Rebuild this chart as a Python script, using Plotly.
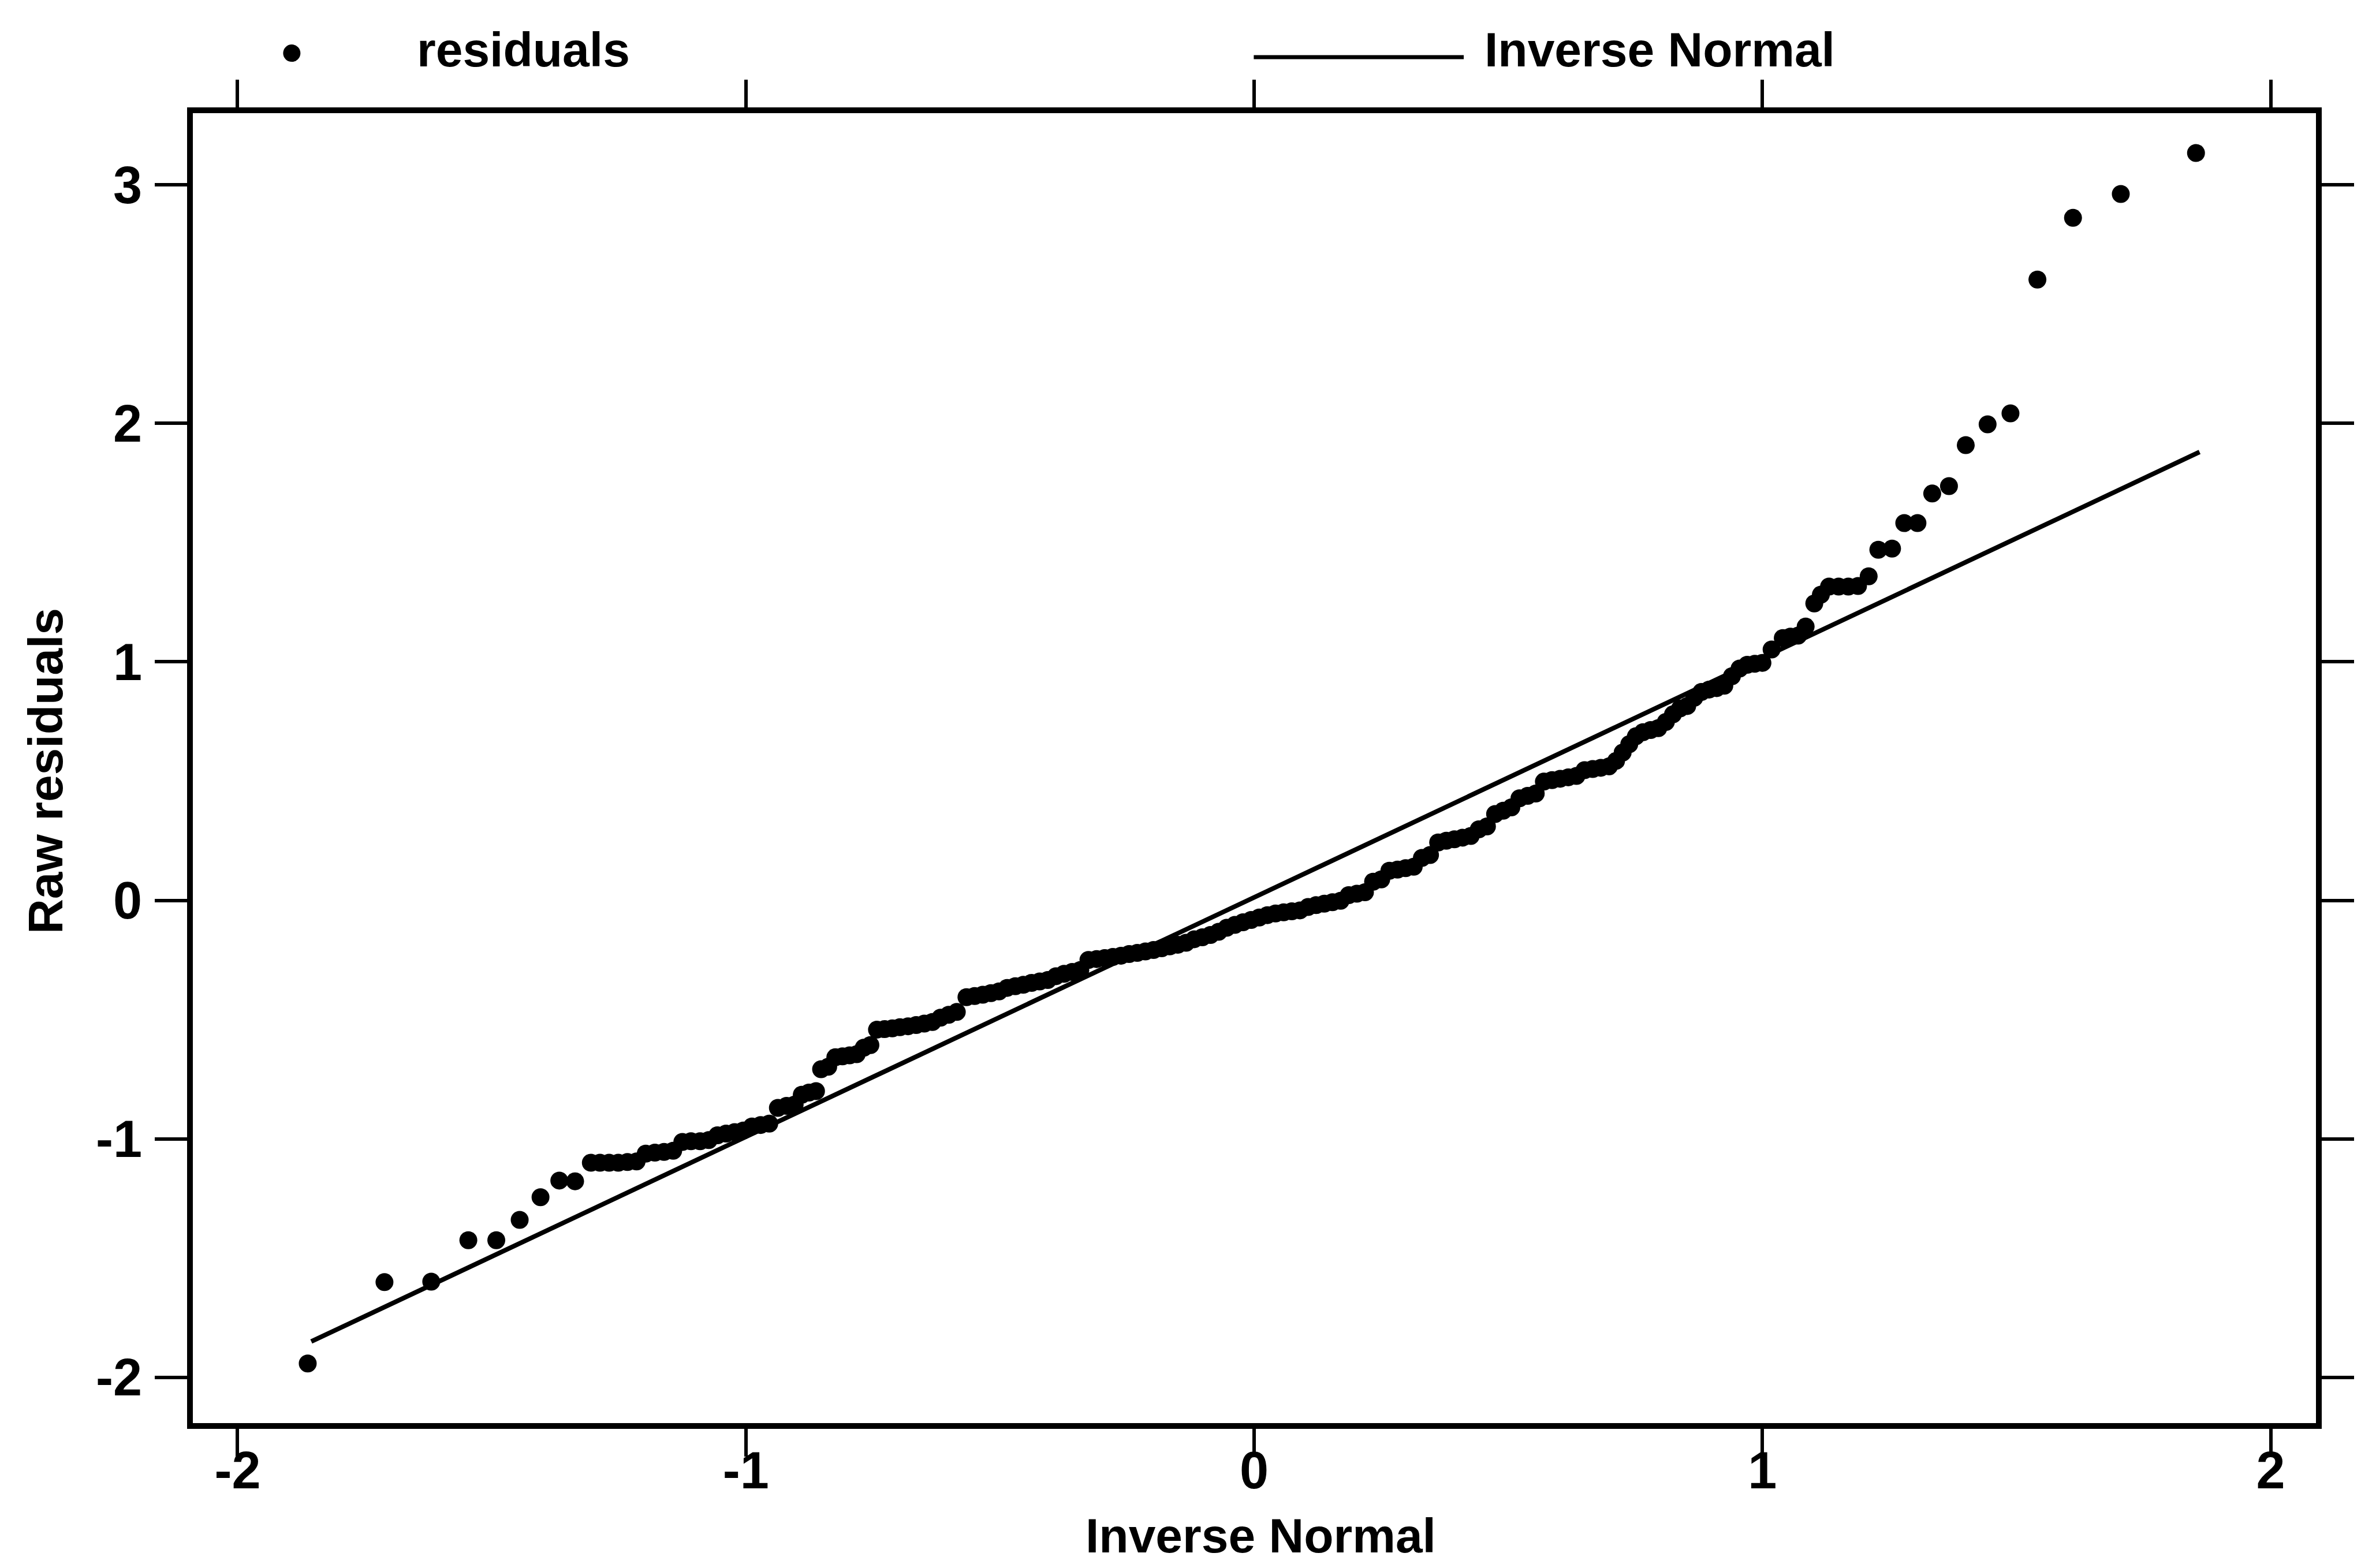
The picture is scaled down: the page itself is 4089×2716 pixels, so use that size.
import plotly.graph_objects as go

# Normal quantile plot of raw residuals
inv_normal = [
    -1.862, -1.711, -1.619, -1.546, -1.491, -1.445, -1.404, -1.367, -1.336,
    -1.305, -1.287, -1.269, -1.251, -1.233, -1.215,
    -1.197, -1.179, -1.161, -1.143,
    -1.125, -1.108, -1.090, -1.073,
    -1.056, -1.039, -1.022, -1.005,
    -0.988, -0.971, -0.954,
    -0.937, -0.920, -0.904,
    -0.890, -0.876, -0.862,
    -0.852, -0.838,
    -0.824, -0.810, -0.796, -0.782,
    -0.768, -0.755,
    -0.742, -0.727, -0.712,
    -0.697, -0.681, -0.665, -0.649, -0.633,
    -0.617, -0.601, -0.585,
    -0.566, -0.550, -0.534, -0.518, -0.502,
    -0.486, -0.470, -0.454,
    -0.438, -0.422, -0.406,
    -0.390, -0.374, -0.358, -0.342,
    -0.326, -0.310, -0.294, -0.278, -0.262,
    -0.246, -0.230, -0.214, -0.198, -0.182,
    -0.166, -0.150, -0.134,
    -0.118, -0.102, -0.086, -0.070,
    -0.054, -0.038, -0.022, -0.006, 0.010,
    0.026, 0.042, 0.058, 0.074, 0.090,
    0.106, 0.122, 0.138, 0.154, 0.170,
    0.186, 0.202, 0.218,
    0.234, 0.250,
    0.266, 0.282, 0.298, 0.314,
    0.330, 0.346,
    0.362, 0.378, 0.394, 0.410, 0.426,
    0.442, 0.458,
    0.474, 0.490, 0.506,
    0.522, 0.538, 0.554,
    0.570, 0.586, 0.602, 0.618, 0.634,
    0.650, 0.666, 0.682, 0.698,
    0.712, 0.725, 0.738, 0.751,
    0.765, 0.780, 0.795,
    0.810, 0.824, 0.838, 0.852,
    0.866, 0.880, 0.895, 0.910, 0.925,
    0.940, 0.955, 0.970, 0.985, 1.000,
    1.018, 1.040, 1.055, 1.070, 1.085,
    1.102, 1.115, 1.131, 1.150, 1.169, 1.188,
    1.209, 1.228, 1.255, 1.279, 1.305,
    1.334, 1.367, 1.400, 1.443, 1.488,
    1.541, 1.611, 1.705, 1.853,
]

raw_residuals = [
    -1.942, -1.601, -1.599, -1.425, -1.425, -1.340, -1.245, -1.175, -1.178,
    -1.100, -1.100, -1.100, -1.100, -1.097, -1.095,
    -1.062, -1.058, -1.055, -1.050,
    -1.013, -1.010, -1.010, -1.005,
    -0.985, -0.978, -0.972, -0.965,
    -0.948, -0.942, -0.936,
    -0.870, -0.862, -0.856,
    -0.815, -0.806, -0.800,
    -0.708, -0.698,
    -0.658, -0.654, -0.650, -0.645,
    -0.618, -0.607,
    -0.542, -0.540, -0.537,
    -0.532, -0.528, -0.523, -0.517, -0.510,
    -0.492, -0.480, -0.468,
    -0.406, -0.401, -0.396, -0.389, -0.382,
    -0.367, -0.360, -0.354,
    -0.346, -0.340, -0.334,
    -0.318, -0.308, -0.300, -0.292,
    -0.250, -0.246, -0.242, -0.237, -0.232,
    -0.225, -0.220, -0.214, -0.208, -0.201,
    -0.193, -0.186, -0.178,
    -0.163, -0.155, -0.145, -0.132,
    -0.115, -0.103, -0.092, -0.082, -0.072,
    -0.062, -0.055, -0.050, -0.046, -0.042,
    -0.028, -0.020, -0.014, -0.008, -0.002,
    0.022, 0.028, 0.034,
    0.078, 0.088,
    0.124, 0.129, 0.135, 0.141,
    0.178, 0.190,
    0.243, 0.250, 0.256, 0.263, 0.270,
    0.298, 0.310,
    0.362, 0.376, 0.390,
    0.428, 0.438, 0.448,
    0.498, 0.504, 0.510, 0.516, 0.522,
    0.546, 0.551, 0.556, 0.562,
    0.585, 0.620, 0.655, 0.688,
    0.705, 0.714, 0.722,
    0.748, 0.780, 0.805, 0.815,
    0.850, 0.874, 0.884, 0.890, 0.900,
    0.940, 0.972, 0.988, 0.992, 0.996,
    1.052, 1.100, 1.106, 1.110, 1.148,
    1.245, 1.282, 1.316, 1.316, 1.316, 1.318,
    1.359, 1.470, 1.475, 1.582, 1.582,
    1.706, 1.737, 1.909, 1.996, 2.042,
    2.603, 2.862, 2.962, 3.134,
]

# Reference line for the inverse normal
ref_line_x = [-1.855, 1.860]
ref_line_y = [-1.850, 1.880]

x_ticks = [-2, -1, 0, 1, 2]
x_tick_labels = ["-2", "-1", "0", "1", "2"]
y_ticks = [-2, -1, 0, 1, 2, 3]
y_tick_labels = ["-2", "-1", "0", "1", "2", "3"]

TEXT_FONT = "Liberation Sans, Arial, sans-serif"

fig = go.Figure()

fig.add_trace(go.Scatter(
    x=inv_normal, y=raw_residuals, mode="markers", name="residuals",
    marker=dict(color="black", size=31, line=dict(width=0)),
    showlegend=False,
))
fig.add_trace(go.Scatter(
    x=ref_line_x, y=ref_line_y, mode="lines", name="Inverse Normal",
    line=dict(color="black", width=8),
    showlegend=False,
))

axis_common = dict(
    showline=True, linecolor="black", linewidth=10, mirror="allticks",
    ticks="outside", tickcolor="black", tickwidth=6,
    showgrid=False, zeroline=False,
    tickfont=dict(family=TEXT_FONT, size=90, color="black", weight="bold"),
)

fig.update_layout(
    width=4089, height=2716,
    margin=dict(l=334, r=65, t=196, b=251),
    paper_bgcolor="white", plot_bgcolor="white",
    xaxis=dict(range=[-2.088, 2.089], tickmode="array", tickvals=x_ticks,
               ticktext=x_tick_labels, ticklen=48, ticklabelstandoff=-53,
               **axis_common),
    yaxis=dict(range=[-2.192, 3.301], tickmode="array", tickvals=y_ticks,
               ticktext=y_tick_labels, ticklen=56, ticklabelstandoff=4,
               **axis_common),
    showlegend=False,
)

title_font = dict(family=TEXT_FONT, size=84, color="black", weight="bold")

# axis titles
fig.add_annotation(text="Inverse Normal", xref="paper", yref="paper",
                   x=0.503, y=-0.086, xanchor="center", yanchor="middle",
                   showarrow=False, font=title_font)
fig.add_annotation(text="Raw residuals", xref="paper", yref="paper",
                   x=-0.0694, y=0.498, xanchor="center", yanchor="middle",
                   textangle=-90, showarrow=False, font=title_font)

# legend row above the plot
fig.add_shape(type="circle", xref="paper", yref="paper",
              xsizemode="pixel", ysizemode="pixel",
              xanchor=0.0466, yanchor=1.0458,
              x0=-15, x1=15, y0=-15, y1=15,
              fillcolor="black", line=dict(color="black", width=0))
fig.add_annotation(text="residuals", xref="paper", yref="paper",
                   x=0.1051, y=1.0485, xanchor="left", yanchor="middle",
                   showarrow=False, font=title_font)
fig.add_shape(type="line", xref="paper", yref="paper",
              x0=0.4997, x1=0.5986, y0=1.0428, y1=1.0428,
              line=dict(color="black", width=7))
fig.add_annotation(text="Inverse Normal", xref="paper", yref="paper",
                   x=0.6079, y=1.0485, xanchor="left", yanchor="middle",
                   showarrow=False, font=title_font)

fig.write_html("out.html")
